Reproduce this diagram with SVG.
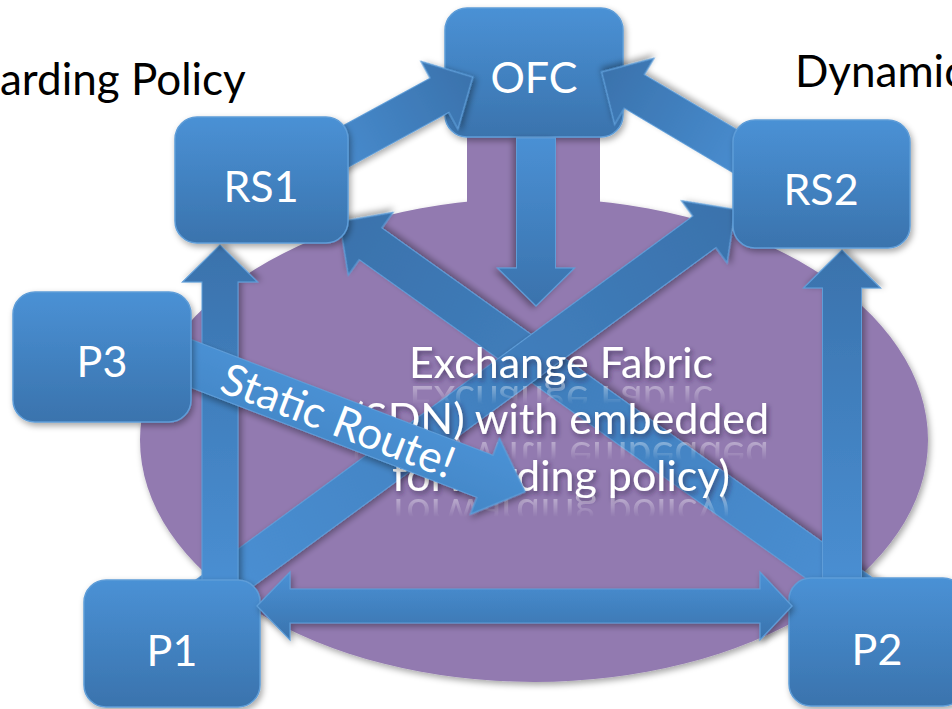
<svg xmlns="http://www.w3.org/2000/svg" width="952" height="709" viewBox="0 0 952 709">
<defs>
  <linearGradient id="boxGrad" x1="0" y1="0" x2="0" y2="1">
    <stop offset="0" stop-color="#4A91D5"/>
    <stop offset="1" stop-color="#3A73AD"/>
  </linearGradient>
  <linearGradient id="arrGrad" x1="0" y1="0" x2="1" y2="0">
    <stop offset="0" stop-color="#4A90D4"/>
    <stop offset="1" stop-color="#3A72AC"/>
  </linearGradient>
  <linearGradient id="staticGrad" x1="0" y1="0" x2="0" y2="1">
    <stop offset="0" stop-color="#4B93D7"/>
    <stop offset="1" stop-color="#4386C6"/>
  </linearGradient>
  <filter id="shadow" x="-20%" y="-20%" width="140%" height="140%">
    <feDropShadow dx="2" dy="3" stdDeviation="3" flood-color="#000" flood-opacity="0.35"/>
  </filter>
  <filter id="tshadow" x="-10%" y="-30%" width="120%" height="160%">
    <feDropShadow dx="2" dy="3" stdDeviation="2.5" flood-color="#2B1B45" flood-opacity="0.6"/>
  </filter>
  <linearGradient id="rg1" gradientUnits="userSpaceOnUse" x1="0" y1="382" x2="0" y2="404">
    <stop offset="0" stop-color="#fff" stop-opacity="0.45"/>
    <stop offset="1" stop-color="#fff" stop-opacity="0"/>
  </linearGradient>
  <linearGradient id="rg2" gradientUnits="userSpaceOnUse" x1="0" y1="438" x2="0" y2="460">
    <stop offset="0" stop-color="#fff" stop-opacity="0.45"/>
    <stop offset="1" stop-color="#fff" stop-opacity="0"/>
  </linearGradient>
  <linearGradient id="rg3" gradientUnits="userSpaceOnUse" x1="0" y1="495" x2="0" y2="517">
    <stop offset="0" stop-color="#fff" stop-opacity="0.45"/>
    <stop offset="1" stop-color="#fff" stop-opacity="0"/>
  </linearGradient>
  <mask id="reflMask" maskUnits="userSpaceOnUse" x="0" y="0" width="952" height="709">
    <rect x="300" y="382" width="560" height="22" fill="url(#rg1)"/>
    <rect x="300" y="438" width="560" height="22" fill="url(#rg2)"/>
    <rect x="300" y="495" width="560" height="22" fill="url(#rg3)"/>
  </mask>
  <text id="fl1" x="561" y="378" class="fab">Exchange Fabric</text>
  <text id="fl2" x="561" y="434" class="fab">(SDN) with embedded</text>
  <text id="fl3" x="561" y="491" class="fab">forwarding policy)</text>
</defs>
<style>
  .box { fill: url(#boxGrad); stroke: #5E9DD8; stroke-width: 1.5; filter: url(#shadow); }
  .lbl { font-family: Lato, "Open Sans", sans-serif; font-size: 43px; fill: #fff; text-anchor: middle; }
  .arr { fill: url(#arrGrad); stroke: #5E9DD8; stroke-width: 1.2; filter: url(#shadow); }
  .purple { fill: #927AB0; }
  .fab { font-family: Lato, "Open Sans", sans-serif; font-size: 43px; fill: #fff; text-anchor: middle; }
  .head { font-family: Lato, "Open Sans", sans-serif; font-size: 44px; fill: #000; }
</style>
<rect width="952" height="709" fill="#fff"/>

<g id="title-left"><text class="head" x="0" y="95">arding Policy</text></g>
<g id="title-right"><text class="head" x="795" y="87">Dynamic</text></g>

<g id="fabric">
  <ellipse class="purple" cx="534" cy="440" rx="394" ry="242" filter="url(#shadow)"/>
  <rect class="purple" x="467" y="130" width="133" height="120"/>
</g>

<g id="OFC">
  <rect class="box" x="445" y="8" width="178" height="129" rx="22"/>
  <text class="lbl" x="534" y="93">OFC</text>
</g>

<g id="connectors">
  <path class="arr" transform="translate(877,605) rotate(-144.5)" d="M0,-19.5 H622 V-38.5 L660,0 L622,38.5 V19.5 H0 Z"/>
  <path class="arr" transform="translate(200,601) rotate(-36.2)" d="M0,-19.5 H625 V-38.5 L663,0 L625,38.5 V19.5 H0 Z"/>
  <path class="arr" transform="translate(220,600) rotate(-90)" d="M0,-18 H318 V-37.5 L355,0 L318,37.5 V18 H0 Z"/>
  <path class="arr" transform="translate(842,600) rotate(-90)" d="M0,-19.5 H312 V-38.5 L350,0 L312,38.5 V19.5 H0 Z"/>
  <path class="arr" transform="translate(306,168) rotate(-28.6)" d="M0,-19.5 H152 V-38.5 L190,0 L152,38.5 V19.5 H0 Z"/>
  <path class="arr" transform="translate(765,169) rotate(-149.3)" d="M0,-19.5 H152 V-38.5 L190,0 L152,38.5 V19.5 H0 Z"/>
  <path class="arr" transform="translate(536,138) rotate(90)" d="M0,-19.5 H130 V-38.5 L168,0 L130,38.5 V19.5 H0 Z"/>
</g>

<g id="fabric-label">
  <g filter="url(#tshadow)">
    <use href="#fl1"/>
    <use href="#fl2"/>
    <use href="#fl3"/>
  </g>
  <g mask="url(#reflMask)">
    <use href="#fl1" transform="translate(0,764) scale(1,-1)"/>
    <use href="#fl2" transform="translate(0,876) scale(1,-1)"/>
    <use href="#fl3" transform="translate(0,990) scale(1,-1)"/>
  </g>
</g>

<g id="static-route" transform="translate(161,352) rotate(21)">
  <path d="M0,-22.5 H347 V-40.5 L390,0 L347,40.5 V22.5 H0 Z" fill="url(#staticGrad)" stroke="#5E9DD8" stroke-width="1.2" filter="url(#shadow)"/>
  <text x="190" y="16" font-family="Lato, 'Open Sans', sans-serif" font-size="44" fill="#fff" text-anchor="middle">Static Route!</text>
</g>

<g id="RS1">
  <rect class="box" x="175" y="117" width="173" height="126" rx="22"/>
  <text class="lbl" x="261" y="202">RS1</text>
</g>
<g id="RS2">
  <rect class="box" x="733" y="120" width="177" height="128" rx="22"/>
  <text class="lbl" x="821" y="205">RS2</text>
</g>
<g id="P3">
  <rect class="box" x="13" y="292" width="178" height="130" rx="22"/>
  <text class="lbl" x="102" y="377">P3</text>
</g>
<g id="P1">
  <rect class="box" x="84" y="580" width="176" height="127" rx="22"/>
  <text class="lbl" x="172" y="666">P1</text>
</g>
<g id="P2">
  <rect class="box" x="789" y="578" width="176" height="128" rx="22"/>
  <text class="lbl" x="877" y="665">P2</text>
</g>

<g id="link-P1-P2">
  <path class="arr" style="fill:url(#boxGrad)" d="M257,606 L290,572 V589 H760 V572 L792,606 L760,640 V623 H290 V640 Z"/>
</g>
</svg>
